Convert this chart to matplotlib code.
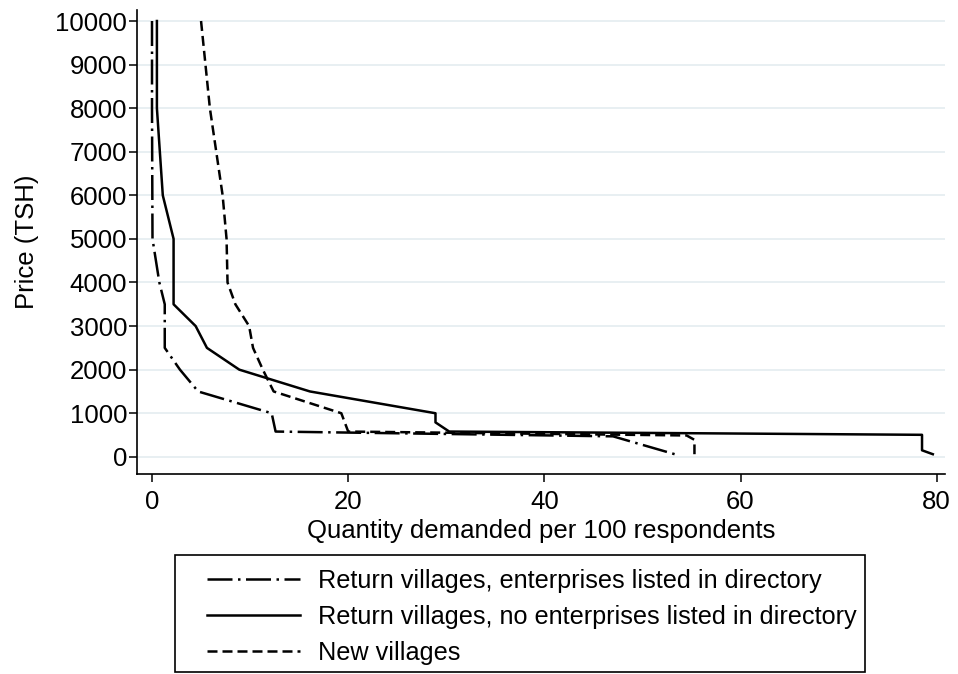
import matplotlib.pyplot as plt
from matplotlib.patches import Rectangle

plt.rcParams['font.family'] = ['Liberation Sans', 'DejaVu Sans']

# Demand curves (price in TSH, quantity per 100 respondents)
price_listed = [10000, 8000, 5000, 4000, 3500, 2500, 2000, 1500, 1000, 580, 470, 40]
qty_listed = [0.0, 0.0, 0.05, 0.75, 1.3, 1.3, 2.85, 4.7, 12.2, 12.6, 47.0, 53.6]

price_unlisted = [10000, 8000, 6000, 5000, 3500, 3000, 2500, 2000, 1500, 1000, 790, 580, 505, 150, 60]
qty_unlisted = [0.5, 0.5, 1.1, 2.2, 2.2, 4.45, 5.6, 8.9, 16.1, 28.9, 28.9, 30.3, 78.5, 78.5, 79.6]

price_new = [10000, 8000, 6000, 5000, 4000, 3500, 3000, 2500, 2000, 1500, 1000, 580, 490, 390, 60]
qty_new = [5.0, 5.9, 7.2, 7.6, 7.7, 8.5, 9.9, 10.3, 11.3, 12.4, 19.3, 20.0, 54.5, 55.3, 55.3]

labels = ['Return villages, enterprises listed in directory',
          'Return villages, no enterprises listed in directory',
          'New villages']
yticks = list(range(0, 10001, 1000))
xticks = [0, 20, 40, 60, 80]

W, H = 958, 674
fig = plt.figure(figsize=(W / 100, H / 100), dpi=100)
ax = fig.add_axes([0.143, 0.297, 0.843, 0.688])

fs = 18.5
lw = 1.8
ax.plot(qty_listed, price_listed, color='black', lw=lw,
        linestyle=(0, (10, 2.2, 1, 2.2)), label=labels[0])
ax.plot(qty_unlisted, price_unlisted, color='black', lw=lw,
        linestyle='-', label=labels[1])
ax.plot(qty_new, price_new, color='black', lw=lw,
        linestyle=(0, (4, 2)), label=labels[2])

ax.set_xlim(-1.53, 80.8)
ax.set_ylim(-390, 10250)
ax.set_yticks(yticks)
ax.set_xticks(xticks)
ax.grid(axis='y', color='#e6eef1', lw=1.3)
ax.set_axisbelow(True)

for s in ['top', 'right']:
    ax.spines[s].set_visible(False)
for s in ['left', 'bottom']:
    ax.spines[s].set_linewidth(1.2)

ax.tick_params(labelsize=fs, length=6, width=1.1)
ax.tick_params(axis='x', pad=6)
ax.tick_params(axis='y', pad=1)
ax.set_ylabel('Price (TSH)', fontsize=fs, labelpad=12)
ax.set_xlabel('Quantity demanded per 100 respondents', fontsize=fs, labelpad=3)

# legend box drawn by hand so the inner padding matches
fig.patches.append(Rectangle((175 / W, 1 - 672 / H), 690 / W, 117 / H,
                             transform=fig.transFigure, fill=False,
                             edgecolor='black', lw=1.2))
fig.legend(loc='upper left', bbox_to_anchor=(207 / W, 1 - 569 / H),
           fontsize=18.2, frameon=False, borderpad=0, borderaxespad=0,
           handlelength=3.68, labelspacing=0.47, handletextpad=0.72)

fig.savefig('out.png', dpi=100)
